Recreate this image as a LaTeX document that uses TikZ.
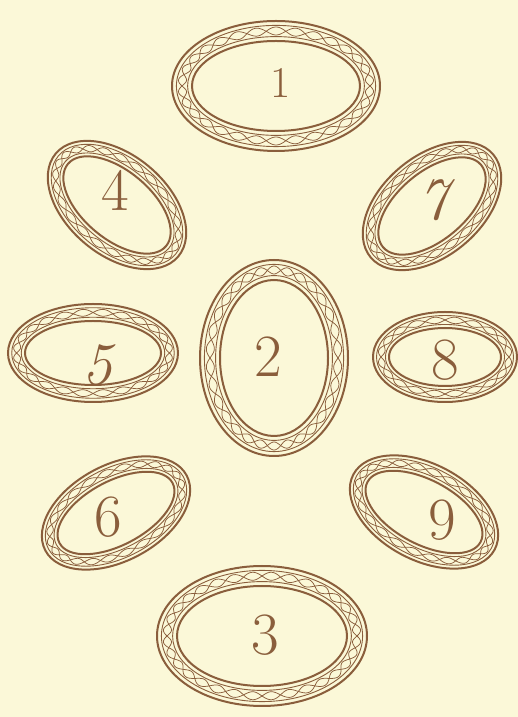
\documentclass[tikz,border=0pt]{standalone}
\usepackage{fontspec}
\definecolor{paper}{HTML}{FBF8D8}
\definecolor{ink}{HTML}{8A5E3C}
\tikzset{
  thickline/.style={draw=ink, line width=2pt},
  thinline/.style={draw=ink, line width=0.9pt},
  waveline/.style={draw=ink, line width=0.75pt},
  numlabel/.style={text=ink, inner sep=0pt, font=\fontsize{60}{60}\selectfont},
}
\newcommand\framedoval[6]{% x, y, a, b, rotation, band
  \begin{scope}[shift={(#1,#2)}, rotate=#5]
    \pgfmathsetmacro\nw{round(2*pi*sqrt((#3*#3+#4*#4)/2)/36)}
    \pgfmathsetmacro\wm{0.5*#6}
    \pgfmathsetmacro\wa{0.2*#6}
    \draw[thickline] (0,0) ellipse [x radius=#3, y radius=#4];
    \draw[thinline] (0,0) ellipse [x radius=#3-0.22*#6, y radius=#4-0.22*#6];
    \draw[waveline] plot[domain=0:360, samples=400, smooth cycle]
      ({(#3-\wm+\wa*sin(\nw*\x))*cos(\x)}, {(#4-\wm+\wa*sin(\nw*\x))*sin(\x)});
    \draw[waveline] plot[domain=0:360, samples=400, smooth cycle]
      ({(#3-\wm-\wa*sin(\nw*\x))*cos(\x)}, {(#4-\wm-\wa*sin(\nw*\x))*sin(\x)});
    \draw[thinline] (0,0) ellipse [x radius=#3-0.78*#6, y radius=#4-0.78*#6];
    \draw[thickline] (0,0) ellipse [x radius=#3-#6, y radius=#4-#6];
  \end{scope}
}
\begin{document}
\begin{tikzpicture}[x=1pt, y=1pt]
  \fill[paper] (0,0) rectangle (518,717);
  \useasboundingbox (0,0) rectangle (518,717);
  \framedoval{276}{631}{104}{65}{0}{20}
  \framedoval{117}{512}{80}{50}{-40}{16}
  \framedoval{432}{511}{80}{50}{40}{16}
  \framedoval{93}{364}{85}{49}{0}{17}
  \framedoval{274}{359}{74}{98}{0}{20}
  \framedoval{445}{360}{72}{45}{0}{16}
  \framedoval{116}{204}{80}{48}{28}{16}
  \framedoval{424}{205}{80}{48}{-28}{16}
  \framedoval{262}{81}{105}{70}{0}{20}
  \node[numlabel, font=\fontsize{44}{44}\selectfont] (n1) at (281,634) {1};
  \node[numlabel] (n4) at (115,527) {4};
  \node[numlabel, font=\fontsize{60}{60}\selectfont\itshape] (n7) at (433,517) {7};
  \node[numlabel, font=\fontsize{60}{60}\selectfont\itshape] (n5) at (97,352) {5};
  \node[numlabel] (n2) at (268,360) {2};
  \node[numlabel] (n8) at (445,357) {8};
  \node[numlabel] (n6) at (108,200) {6};
  \node[numlabel] (n9) at (442,197) {9};
  \node[numlabel] (n3) at (265,82) {3};
\end{tikzpicture}
\end{document}
